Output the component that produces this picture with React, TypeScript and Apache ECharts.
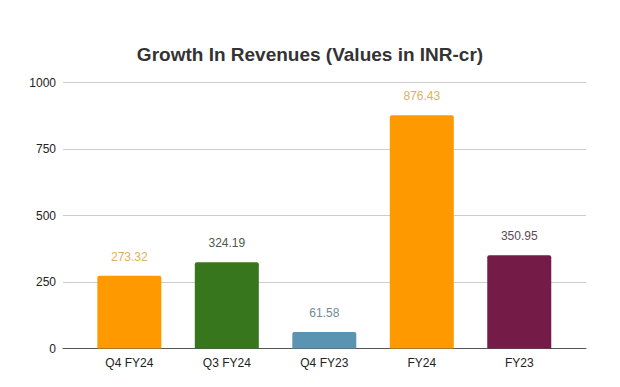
import React, { useEffect, useRef } from "react";
import * as echarts from "echarts";

const categories = ["Q4 FY24", "Q3 FY24", "Q4 FY23", "FY24", "FY23"];
const values = [273.32, 324.19, 61.58, 876.43, 350.95];
const barColors = ["#ff9900", "#38761d", "#5b93b3", "#ff9900", "#741b47"];
const labelColors = ["#d8b35c", "#4d5c48", "#6f8a99", "#d8b35c", "#5e4a55"];
const yTicks = [0, 250, 500, 750, 1000];

export default function App() {
  const ref = useRef<HTMLDivElement>(null);
  useEffect(() => {
    if (!ref.current) return;
    const chart = echarts.init(ref.current, undefined, { renderer: "svg" });
    const font = "'Liberation Sans', Arial, sans-serif";
    chart.setOption({
      animation: false,
      backgroundColor: "#ffffff",
      title: {
        text: "Growth In Revenues (Values in INR-cr)",
        left: "center",
        top: 40,
        textStyle: { fontFamily: font, fontSize: 19, fontWeight: "bold", color: "#333333" },
      },
      grid: [
        { left: 63, right: 34, top: 82.5, bottom: 38.5 },
        { left: 80.6, right: 52, top: 82.5, bottom: 38.5 },
      ],
      xAxis: [
        {
          gridIndex: 0,
          type: "value",
          min: 0,
          max: 1,
          axisLine: { show: true, onZero: false, lineStyle: { color: "#555555", width: 1 } },
          axisTick: { show: false },
          axisLabel: { show: false },
          splitLine: { show: false },
        },
        {
          gridIndex: 1,
          type: "category",
          data: categories,
          axisLine: { show: false },
          axisTick: { show: false },
          axisLabel: { color: "#222222", fontSize: 12, fontFamily: font, margin: 8 },
        },
      ],
      yAxis: [
        {
          gridIndex: 0,
          type: "value",
          min: 0,
          max: yTicks[yTicks.length - 1],
          interval: 250,
          axisLine: { show: false },
          axisTick: { show: false },
          axisLabel: {
            color: "#222222",
            fontSize: 12,
            fontFamily: font,
            margin: 7,
            formatter: (v: number) => String(v),
          },
          splitLine: { lineStyle: { color: "#cccccc", width: 1 } },
        },
        {
          gridIndex: 1,
          type: "value",
          min: 0,
          max: 1000,
          interval: 250,
          axisLine: { show: false },
          axisTick: { show: false },
          axisLabel: { show: false },
          splitLine: { show: false },
        },
      ],
      series: [
        {
          type: "bar",
          xAxisIndex: 1,
          yAxisIndex: 1,
          barWidth: 64,
          data: values.map((v, i) => ({
            value: v,
            itemStyle: { color: barColors[i], borderRadius: [2, 2, 0, 0] },
            label: { color: labelColors[i] },
          })),
          label: {
            show: true,
            position: "top",
            distance: 13,
            fontSize: 12,
            fontFamily: font,
            formatter: (p: any) => p.value.toFixed(2),
          },
        },
      ],
    });
    return () => chart.dispose();
  }, []);
  return <div ref={ref} style={{ width: 620, height: 387, position: "absolute", left: 0, top: 0 }} />;
}
